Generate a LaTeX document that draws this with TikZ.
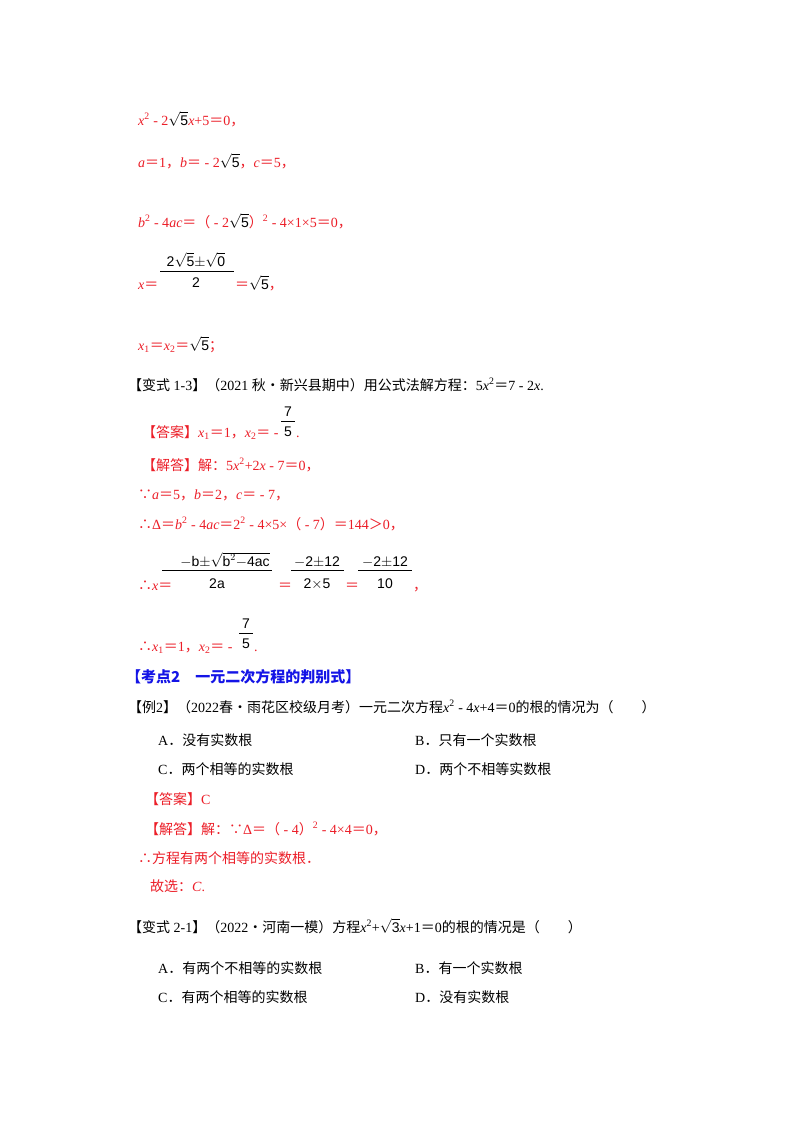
\documentclass[tikz,border=0pt]{standalone}
\usepackage{amsmath}
\usepackage{fontspec}
\setmainfont{Liberation Serif}
\setsansfont{Liberation Sans}
\newfontfamily\zhfont{Noto Sans CJK SC}
\newcommand{\zh}[1]{{\zhfont #1}}
\newcommand{\I}[1]{\textit{#1}}
\newcommand{\sq}{\textsuperscript{2}}
\definecolor{ansred}{RGB}{236,30,40}
\definecolor{kblue}{RGB}{20,20,230}
\newcommand{\rt}[1]{\textcolor{black}{$\sqrt{\text{\sffamily #1}}$}}
\begin{document}
\begin{tikzpicture}[x=1pt,y=-1pt,
  txt/.style={anchor=base west,inner sep=0pt,font=\fontsize{14}{16}\selectfont},
  red/.style={txt,text=ansred},
  frac/.style={anchor=base,inner sep=0pt,font=\sffamily\fontsize{14}{16}\selectfont,text=black}]
\useasboundingbox[fill=white] (0,0) rectangle (800,1132);
% top
\node[red] (l1) at (138,125) {\I{x}\sq{} - 2\rt{5}\I{x}+5\zh{＝}0\zh{，}};
\node[red] (l2) at (138,167) {\I{a}\zh{＝}1\zh{，}\I{b}\zh{＝} - 2\rt{5}\zh{，}\I{c}\zh{＝}5\zh{，}};
\node[red] (l3) at (138,227) {\I{b}\sq{} - 4\I{ac}\zh{＝（} - 2\rt{5}\zh{）}\sq{} - 4×1×5\zh{＝}0\zh{，}};
\node[frac] (n1) at (196,266) {2\rt{5}$\pm$\rt{0}};
\draw (160,271) -- (234,271);
\node[frac] (d1) at (196,287) {2};
\node[red] (l4) at (138,289) {\I{x}\zh{＝}};
\node[red] (l4b) at (235,289) {\zh{＝}\rt{5}\zh{，}};
\node[red] (l5) at (138,350) {\I{x}\textsubscript{1}\zh{＝}\I{x}\textsubscript{2}\zh{＝}\rt{5}\zh{；}};
% variant 1-3
\node[txt] (v13) at (128,390) {\zh{【变式} 1-3\zh{】（}2021 \zh{秋•新兴县期中）用公式法解方程：}5\I{x}\sq\zh{＝}7 - 2\I{x}.};
\node[frac] (n2) at (288,416) {7};
\draw (281,421) -- (295,421);
\node[frac] (d2) at (288,436) {5};
\node[red] (ans1) at (142,437) {\zh{【答案】}\I{x}\textsubscript{1}\zh{＝}1\zh{，}\I{x}\textsubscript{2}\zh{＝} - };
\node[red] (ans1b) at (296,437) {.};
\node[red] (sol1) at (142,470) {\zh{【解答】解：}5\I{x}\sq+2\I{x} - 7\zh{＝}0\zh{，}};
\node[red] (s2) at (138,499) {\zh{∵}\I{a}\zh{＝}5\zh{，}\I{b}\zh{＝}2\zh{，}\I{c}\zh{＝} - 7\zh{，}};
\node[red] (s3) at (138,529) {\zh{∴}Δ\zh{＝}\I{b}\sq{} - 4\I{ac}\zh{＝}2\sq{} - 4×5×\zh{（} - 7\zh{）＝}144\zh{＞}0\zh{，}};
\node[frac] (n3) at (225,566) {$-$b$\pm$\rt{b$^2-$4ac}};
\draw (162,570) -- (272,570);
\node[frac] (d3) at (217,588) {2a};
\node[red] (s4) at (138,590) {\zh{∴}\I{x}\zh{＝}};
\node[red] (eq1) at (278,590) {\zh{＝}};
\node[frac] (n4) at (317,566) {$-$2$\pm$12};
\draw (291,570) -- (344,570);
\node[frac] (d4) at (317,588) {2$\times$5};
\node[red] (eq2) at (345,590) {\zh{＝}};
\node[frac] (n5) at (385,566) {$-$2$\pm$12};
\draw (358,570) -- (412,570);
\node[frac] (d5) at (385,588) {10};
\node[red] (cm) at (413,590) {\zh{，}};
\node[frac] (n6) at (246,628) {7};
\draw (239,633) -- (253,633);
\node[frac] (d6) at (246,648) {5};
\node[red] (s5) at (138,651) {\zh{∴}\I{x}\textsubscript{1}\zh{＝}1\zh{，}\I{x}\textsubscript{2}\zh{＝} - };
\node[red] (s5b) at (254,651) {.};
% kaodian
\node[txt,text=kblue,font=\zhfont\bfseries\fontsize{15}{17}\selectfont] (kd) at (126,682) {【考点2\quad 一元二次方程的判别式】};
\node[txt] (ex2) at (128,712) {\zh{【例}2\zh{】（}2022\zh{春•雨花区校级月考）一元二次方程}\I{x}\sq{} - 4\I{x}+4\zh{＝}0\zh{的根的情况为（\qquad ）}};
\node[txt] (a1) at (158,745) {A\zh{．没有实数根}};
\node[txt] (b1) at (415,745) {B\zh{．只有一个实数根}};
\node[txt] (c1) at (158,774) {C\zh{．两个相等的实数根}};
\node[txt] (dd1) at (415,774) {D\zh{．两个不相等实数根}};
\node[red] (ans2) at (145,804) {\zh{【答案】}C};
\node[red] (sol2) at (145,834) {\zh{【解答】解：∵}Δ\zh{＝（} - 4\zh{）}\sq{} - 4×4\zh{＝}0\zh{，}};
\node[red] (s6) at (138,863) {\zh{∴方程有两个相等的实数根．}};
\node[red] (s7) at (150,891) {\zh{故选：}\I{C}.};
\node[txt] (v21) at (128,932) {\zh{【变式} 2-1\zh{】（}2022\zh{•河南一模）方程}\I{x}\sq+\rt{3}\I{x}+1\zh{＝}0\zh{的根的情况是（\qquad ）}};
\node[txt] (a2) at (158,973) {A\zh{．有两个不相等的实数根}};
\node[txt] (b2) at (415,973) {B\zh{．有一个实数根}};
\node[txt] (c2) at (158,1002) {C\zh{．有两个相等的实数根}};
\node[txt] (dd2) at (415,1002) {D\zh{．没有实数根}};
\end{tikzpicture}
\end{document}
